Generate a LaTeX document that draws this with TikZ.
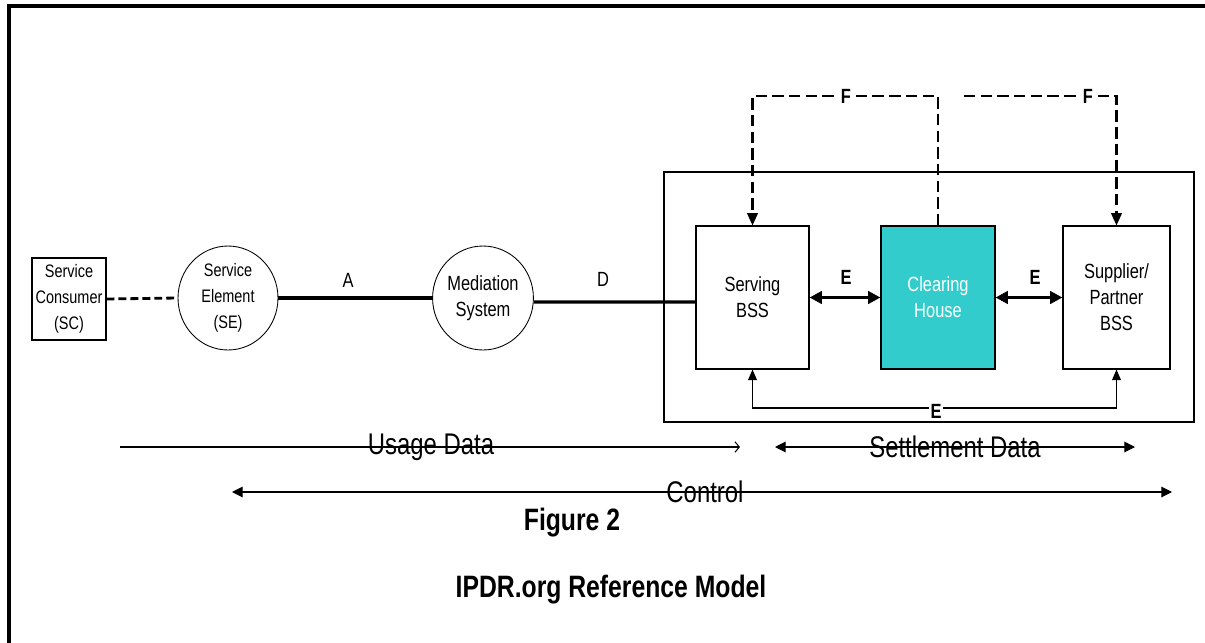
\documentclass[tikz,border=0pt]{standalone}
\usepackage{fontspec}
\setmainfont{Liberation Sans}[FakeStretch=0.8]
\usetikzlibrary{arrows.meta,shapes.geometric}
\definecolor{chteal}{HTML}{33CCCC}

\begin{document}
\begin{tikzpicture}[
  x=0.02cm, y=-0.02cm,
  font=\fontsize{11.7}{14.8}\selectfont,
  unitbox/.style={draw, line width=0.6pt, align=center, inner sep=0pt, minimum height=2.86cm},
  unitell/.style={ellipse, draw, line width=0.5pt, align=center, inner sep=0pt, minimum width=2cm, minimum height=2.08cm},
  link/.style={line width=1.9pt},
  scdash/.style={line width=1.6pt, dash pattern=on 4.5pt off 2.3pt},
  elink/.style={line width=1.8pt, {Triangle[length=7pt,width=7pt]}-{Triangle[length=7pt,width=7pt]}},
  eback/.style={line width=0.6pt, {Triangle[length=6pt,width=5pt]}-{Triangle[length=6pt,width=5pt]}},
  flink/.style={line width=1.2pt, dash pattern=on 6.5pt off 3pt, -{Triangle[length=7pt,width=6pt]}},
  flab/.style={font=\bfseries\fontsize{11.7}{13}\selectfont, fill=white, inner sep=1pt},
  span/.style={line width=0.6pt},
  spantext/.style={font=\fontsize{17}{19}\selectfont, inner sep=0pt},
  bigtitle/.style={font=\bfseries\fontsize{17.6}{20}\selectfont},
]
\useasboundingbox (0,0) rectangle (1205,643);

% ---------- outer frame ----------
\draw[line width=2.3pt] (9,643) -- (9,6) -- (1205,6);

% ---------- usage side ----------
\node[unitbox, minimum width=1.48cm, minimum height=1.64cm, font=\fontsize{10.3}{14.8}\selectfont] (sc) at (69,299) {Service\\Consumer\\(SC)};
\node[unitell, font=\fontsize{10.3}{14.8}\selectfont] (se) at (228,298) {Service\\Element\\(SE)};
\node[unitell] (med) at (483,298) {Mediation\\System};

% ---------- settlement side ----------
\draw[line width=0.9pt] (664,172) rectangle (1194,422);
\node[unitbox, minimum width=2.26cm] (serv) at (752.5,297.5) {Serving\\BSS};
\node[unitbox, fill=chteal, text=white, minimum width=2.28cm] (ch) at (938,297.5) {Clearing\\House};
\node[unitbox, minimum width=2.14cm] (sup) at (1116.5,297.5) {Supplier/\\Partner\\BSS};

% ---------- interfaces ----------
\draw[scdash] (sc.east) -- (se.west);
\draw[link] (se) -- (med);
\node (labA) at (348,280) {A};
\draw[link] ([yshift=-0.08cm]med.east) -- ([yshift=-0.09cm]serv.west);
\node (labD) at (603,279) {D};

\draw[elink] (serv) -- (ch);
\node[font=\bfseries\fontsize{11.7}{13}\selectfont] (labE1) at (846,277) {E};
\draw[elink] (ch) -- (sup);
\node[font=\bfseries\fontsize{11.7}{13}\selectfont] (labE2) at (1035,277) {E};

\coordinate (eb) at (936,408);
\draw[eback] (serv.south) |- (eb) -| (sup.south);
\node[flab] (labE3) at (936,411) {E};

\coordinate (f1) at (938,96);
\coordinate (f2) at (964,96);
\draw[flink] (ch.north) -- (f1) -| (serv.north);
\draw[flink] (f2) -| (sup.north);
\node[flab] (labF1) at (846,96) {F};
\node[flab] (labF2) at (1088,96) {F};

% ---------- data spans ----------
\coordinate (u1) at (120,447);
\coordinate (u2) at (740,447);
\node[spantext] (usage) at (431,447) {Usage Data};
\draw[span, -{Straight Barb[length=2.5pt,width=6pt]}] (u1) -- (u2);

\coordinate (s1) at (775,447);
\coordinate (s2) at (1135,447);
\node[spantext] (settle) at (955,447) {Settlement Data};
\draw[span, {Triangle[length=6pt,width=6pt]}-{Triangle[length=6pt,width=6pt]}] (s1) -- (s2);

\coordinate (c1) at (232,492);
\coordinate (c2) at (1172,492);
\node[spantext] (ctrl) at (705,492) {Control};
\draw[span, {Triangle[length=6pt,width=6pt]}-{Triangle[length=6pt,width=6pt]}] (c1) -- (c2);

% ---------- captions ----------
\node[bigtitle] (fig) at (572,523) {Figure 2};
\node[bigtitle] (title) at (611,590) {IPDR.org Reference Model};
\end{tikzpicture}
\end{document}
